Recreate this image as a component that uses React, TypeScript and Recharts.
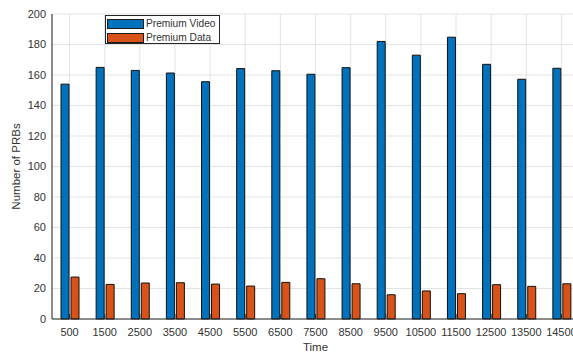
import { BarChart, Bar, XAxis, YAxis, CartesianGrid } from 'recharts'

const times = ['500', '1500', '2500', '3500', '4500', '5500', '6500', '7500', '8500', '9500', '10500', '11500', '12500', '13500', '14500']
const premiumVideo = [154, 165, 163, 161.3, 155.6, 164.2, 162.8, 160.5, 164.8, 182, 173, 184.8, 167, 157.2, 164.4]
const premiumData = [27.5, 22.7, 23.6, 23.8, 22.9, 21.6, 24, 26.4, 23.1, 15.9, 18.4, 16.6, 22.5, 21.4, 23.1]
const yTicks = [0, 20, 40, 60, 80, 100, 120, 140, 160, 180, 200]

const series = [
  { key: 'video', name: 'Premium Video', color: '#0072BD' },
  { key: 'data', name: 'Premium Data', color: '#D95319' },
]

const data = times.map((t, i) => ({ time: t, video: premiumVideo[i], data: premiumData[i] }))

const FONT = '"Liberation Sans", Arial, Helvetica, sans-serif'
const AXIS = '#262626'
const TEXT = '#333333'

// bottom ticks: short mark pointing into the plot, label below
const BottomTick = ({ x, y, payload }: any) => (
  <g>
    <line x1={x} y1={y} x2={x} y2={y - 5} stroke={AXIS} strokeWidth={1} />
    <text x={x} y={y + 17} textAnchor="middle" fill={TEXT} fontSize={11} fontFamily={FONT}>
      {payload.value}
    </text>
  </g>
)

// top ticks: mark only
const TopTick = ({ x, y }: any) => (
  <line x1={x} y1={y} x2={x} y2={y + 5} stroke={AXIS} strokeWidth={1} />
)

const LeftTick = ({ x, y, payload }: any) => (
  <text x={x - 6} y={y} dy="0.36em" textAnchor="end" fill={TEXT} fontSize={11} fontFamily={FONT}>
    {payload.value}
  </text>
)

const Legend = () => (
  <div style={{ position: 'absolute', left: 105, top: 15, width: 115, height: 29, border: `1px solid ${AXIS}`, background: '#fff', boxSizing: 'border-box' }}>
    {series.map((s, i) => (
      <div key={s.key} style={{ position: 'absolute', left: 1, top: 3 + i * 13.5, display: 'flex', alignItems: 'center', height: 10 }}>
        <span style={{ display: 'inline-block', width: 37, height: 10, background: s.color, border: '1px solid #1a1a1a', boxSizing: 'border-box', flexShrink: 0 }} />
        <span style={{ marginLeft: 2, fontSize: 10.2, lineHeight: '10px', color: TEXT, fontFamily: FONT, whiteSpace: 'nowrap' }}>{s.name}</span>
      </div>
    ))}
  </div>
)

export default function App() {
  return (
    <div style={{ position: 'absolute', left: 0, top: 0, width: 573, height: 353, overflow: 'hidden', background: '#fff' }}>
      <BarChart width={590} height={353} data={data} margin={{ top: 14, right: 11, left: 0, bottom: 0 }} barSize={8} barGap={2} barCategoryGap={0}>
        <CartesianGrid stroke="#e3e3e3" strokeWidth={1} />
        <XAxis
          dataKey="time"
          height={34}
          tickSize={0}
          tickMargin={0}
          interval={0}
          stroke={AXIS}
          tick={<BottomTick />}
          label={{
            content: ({ viewBox }: any) => (
              <text x={viewBox.x + viewBox.width / 2} y={351} textAnchor="middle" fill={TEXT} fontSize={11.5} fontFamily={FONT}>
                Time
              </text>
            ),
          }}
        />
        <XAxis xAxisId="top" orientation="top" dataKey="time" height={0} tickSize={0} tickMargin={0} interval={0} stroke="#8c8c8c" tick={<TopTick />} />
        <YAxis
          width={52}
          domain={[0, 200]}
          ticks={yTicks}
          tickSize={0}
          tickMargin={0}
          interval={0}
          stroke={AXIS}
          tick={<LeftTick />}
          label={{
            content: ({ viewBox }: any) => (
              <text
                x={20}
                y={viewBox.y + viewBox.height / 2}
                transform={`rotate(-90, 20, ${viewBox.y + viewBox.height / 2})`}
                textAnchor="middle"
                fill={TEXT}
                fontSize={11.5}
                fontFamily={FONT}
              >
                Number of PRBs
              </text>
            ),
          }}
        />
        {series.map((s) => (
          <Bar key={s.key} dataKey={s.key} name={s.name} fill={s.color} stroke="#111" strokeWidth={1} isAnimationActive={false} />
        ))}
      </BarChart>
      <Legend />
    </div>
  )
}
